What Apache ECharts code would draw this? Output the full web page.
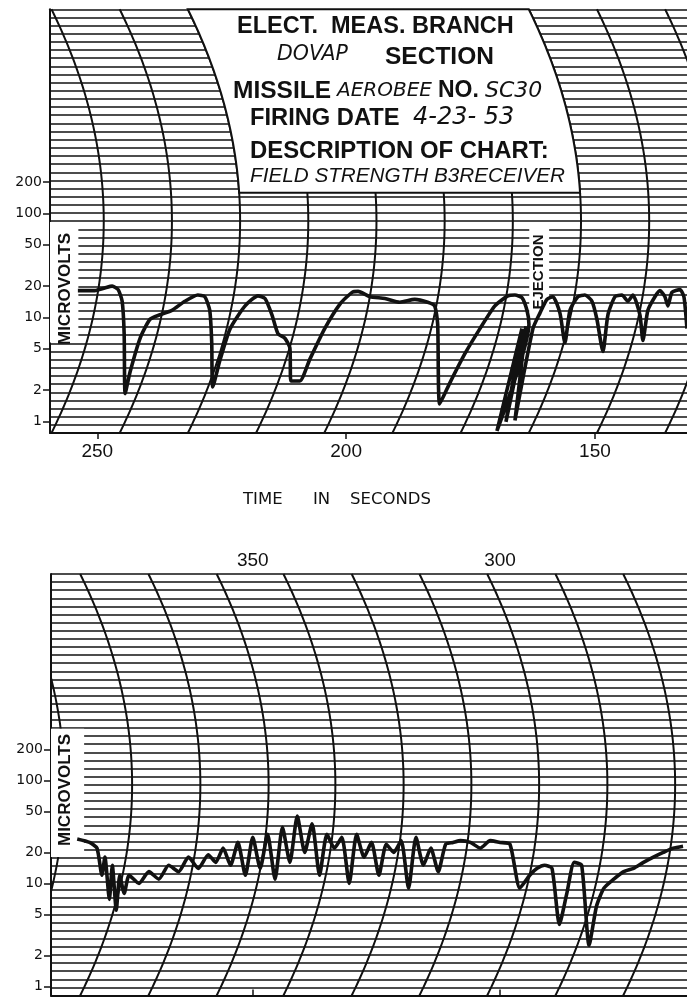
<!DOCTYPE html>
<html><head><meta charset="utf-8">
<script src="https://cdn.jsdelivr.net/npm/echarts@6/dist/echarts.min.js"></script>
<style>html,body{margin:0;padding:0;background:#fff}#c{width:687px;height:997px}</style>
</head><body><div id="c"></div>
<script>
// ---- data (time in seconds, field strength in microvolts) ----
const topTime = [253.9,250.5,248.5,247.0,245.8,245.0,244.6,244.4,243.4,241.4,239.4,237.4,235.0,232.4,229.8,228.4,227.4,227.0,226.8,225.3,223.3,220.3,217.7,216.3,214.9,213.7,212.3,211.3,211.1,209.3,207.3,204.3,201.2,198.8,197.6,195.2,192.2,189.2,186.2,183.6,182.2,181.6,181.2,179.2,176.1,173.1,170.1,167.5,166.07,164.67,163.66,163.26,169.69,164.67,167.88,163.86,166.07,162.46,161.05,159.64,158.44,157.03,156.03,155.02,153.42,152.01,150.60,149.60,148.39,147.39,145.98,144.58,143.37,142.37,140.96,140.36,139.36,137.94,136.94,135.94,135.33,134.53,132.92,132.12,131.51];
const topUV   = [18.1,18.1,19.2,20.0,18.5,14.3,7.0,1.85,3.0,6.3,9.6,10.6,11.7,14.3,16.4,15.8,11.7,5.7,2.15,3.95,7.8,12.9,16.1,15.2,10.6,7.0,6.3,5.1,2.45,2.45,3.95,7.8,13.5,17.4,17.8,15.8,15.2,14.0,14.9,14.0,12.9,8.6,1.47,2.32,4.5,7.8,12.9,16.1,16.4,15.5,11.7,8.6,0.81,7.8,0.99,8.2,1.02,7.8,11.0,14.9,15.8,11.0,5.7,11.7,15.8,16.4,14.3,9.6,4.7,10.6,15.8,16.4,14.3,16.4,10.6,6.0,11.7,15.8,18.1,15.8,12.9,17.4,18.5,15.8,7.8];
const botTime = [385.5,383.0,381.5,380.5,379.9,379.0,378.4,377.6,376.9,376.0,375.0,373.0,371.0,369.0,367.0,365.0,363.0,361.0,359.0,357.5,356.0,354.5,353.0,351.5,350.0,348.5,347.0,345.5,344.0,342.5,341.0,339.5,338.0,336.5,335.0,333.5,332.0,330.5,329.0,327.5,326.0,324.5,323.0,321.5,320.0,318.5,317.0,315.5,314.0,312.5,311.0,309.5,308.0,306.0,304.0,302.0,300.0,298.0,296.0,294.0,292.5,291.0,289.5,288.0,286.5,285.0,283.5,282.0,280.5,279.0,277.0,275.0,273.0,271.0,269.0,267.0,265.0,263.0];
const botUV   = [27,25,22,12,18,7,15,5.5,12,8,12,10,13,11,15,13,18,14,19,16,22,15,25,12,28,14,30,11,35,16,45,20,38,12,30,22,28,10,30,18,25,12,24,20,26,9,28,15,22,13,24,25,26,25,22,26,25,24,9,12,14,15,14,4,8,16,15,2.5,6,9,11,13,14,16,18,20,22,23];
const yTickValues = [1,2,5,10,20,50,100,200];
const topTimeTicks = [250,200,150];
const botTimeTicks = [350,300];
const topArcTimes = [259.2,245.5,231.8,218.1,204.4,190.7,177.0,163.3,149.6,135.9];
const botArcTimes = [398.6,384.9,371.1,357.3,343.8,330.0,316.3,302.6,288.8,275.1];

// ---- layout constants ----
const ARC_BULGE = 10.5;   // seconds, sideways bow of the recorder arcs
const DIVS = 52;
const FONT = '"Liberation Sans", Arial, sans-serif';
const DFONT = '"DejaVu Sans", sans-serif';

function zip(a,b){return a.map((v,i)=>[v,b[i]]);}
function arcT(t0,d){const u=(d-DIVS/2)/(DIVS/2); return t0 - ARC_BULGE*(1-u*u);}
function arcPoints(t0){
  const pts=[];
  for(let d=0; d<=DIVS; d+=1){ pts.push([arcT(t0,d), d]); }
  return pts;
}
const arcSeries = [];
topArcTimes.forEach(t=>arcSeries.push({type:'line',xAxisIndex:0,yAxisIndex:1,data:arcPoints(t),showSymbol:false,silent:true,smooth:true,lineStyle:{color:'#111',width:2},z:2}));
botArcTimes.forEach(t=>arcSeries.push({type:'line',xAxisIndex:1,yAxisIndex:3,data:arcPoints(t),showSymbol:false,silent:true,smooth:true,lineStyle:{color:'#111',width:2},z:2}));

// white masks (title block, label boxes)
function headerBox(params, api){
  const left = topArcTimes[2], right = topArcTimes[7], bottomDiv = 29.5;
  const pts=[];
  for(let d=DIVS; d>=bottomDiv; d-=0.5){ pts.push(api.coord([arcT(left,d), d])); }
  for(let d=bottomDiv; d<=DIVS; d+=0.5){ pts.push(api.coord([arcT(right,d), d])); }
  return {type:'polygon', shape:{points:pts}, style:{fill:'#fff', stroke:'#111', lineWidth:2}};
}
function rectBox(t0,t1,d0,d1){
  return function(params, api){
    const p0=api.coord([t0,d1]), p1=api.coord([t1,d0]);
    return {type:'rect', shape:{x:p0[0],y:p0[1],width:p1[0]-p0[0],height:p1[1]-p0[1]}, style:{fill:'#fff'}};
  };
}

const chart = echarts.init(document.getElementById('c'), null, {renderer:'canvas'});
const axisLine = {show:true, lineStyle:{color:'#111', width:2}};
const yLabel = {customValues:yTickValues, color:'#111', fontSize:14, fontFamily:DFONT, margin:8};
const option = {
  backgroundColor:'#fff',
  animation:false,
  grid:[
    {left:50, top:9.3, right:-3, height:423.7},
    {left:51, top:574, right:-3, height:421.5}
  ],
  xAxis:[
    {gridIndex:0, type:'value', inverse:true, min:131.5, max:259.5, position:'bottom',
     axisLine:axisLine, splitLine:{show:false},
     axisTick:{show:true, customValues:topTimeTicks, length:6, lineStyle:{color:'#111',width:1.5}},
     axisLabel:{customValues:topTimeTicks, color:'#111', fontSize:19, fontFamily:FONT, margin:9}},
    {gridIndex:1, type:'value', inverse:true, min:262.2, max:390.8, position:'top',
     axisLine:axisLine, splitLine:{show:false},
     axisTick:{show:true, customValues:botTimeTicks, length:6, lineStyle:{color:'#111',width:1.5}},
     axisLabel:{customValues:botTimeTicks, color:'#111', fontSize:19, fontFamily:FONT, margin:4}}
  ],
  yAxis:[
    {gridIndex:0, type:'log', min:0.7735, max:9175, axisLine:axisLine, splitLine:{show:false},
     axisTick:{show:true, customValues:yTickValues, length:7, lineStyle:{color:'#111',width:1.5}},
     axisLabel:yLabel},
    {gridIndex:0, type:'value', min:0, max:DIVS, interval:1, show:true, position:'right',
     axisLine:{show:false}, axisTick:{show:false}, axisLabel:{show:false},
     splitLine:{show:true, lineStyle:{color:'#111', width:1.6}}},
    {gridIndex:1, type:'log', min:0.816, max:10093, axisLine:axisLine, splitLine:{show:false},
     axisTick:{show:true, customValues:yTickValues, length:7, lineStyle:{color:'#111',width:1.5}},
     axisLabel:yLabel},
    {gridIndex:1, type:'value', min:0, max:DIVS, interval:1, show:true, position:'right',
     axisLine:{show:false}, axisTick:{show:false}, axisLabel:{show:false},
     splitLine:{show:true, lineStyle:{color:'#111', width:1.6}}}
  ],
  series: arcSeries.concat([
    {type:'custom', xAxisIndex:0, yAxisIndex:1, data:[0], renderItem:headerBox, silent:true, z:3},
    {type:'custom', xAxisIndex:0, yAxisIndex:1, data:[0], renderItem:rectBox(259.5,253.8,11.1,25.9), silent:true, z:3},
    {type:'custom', xAxisIndex:0, yAxisIndex:1, data:[0], renderItem:rectBox(163.2,159.2,14.1,25.9), silent:true, z:3},
    {type:'custom', xAxisIndex:1, yAxisIndex:3, data:[0], renderItem:rectBox(390.8,384.1,17.1,32.9), silent:true, z:3},
    {type:'line', name:'top', xAxisIndex:0, yAxisIndex:0, data:zip(topTime,topUV), showSymbol:false, smooth:0.2,
     lineStyle:{color:'#111', width:3.6}, z:5},
    {type:'line', name:'bottom', xAxisIndex:1, yAxisIndex:2, data:zip(botTime,botUV), showSymbol:false, smooth:0.2,
     lineStyle:{color:'#111', width:3.6}, z:5}
  ]),
  graphic:[
    {type:'text', x:237, y:27, z:10, style:{text:'ELECT.  MEAS. BRANCH', font:'bold 23.5px '+FONT, fill:'#111', verticalAlign:'middle'}},
    {type:'text', x:277, y:55, z:10, style:{text:'DOVAP', font:'oblique 20.5px '+DFONT, fill:'#111', verticalAlign:'middle'}},
    {type:'text', x:385, y:57, z:10, style:{text:'SECTION', font:'bold 24.5px '+FONT, fill:'#111', verticalAlign:'middle'}},
    {type:'text', x:233, y:91, z:10, style:{text:'MISSILE', font:'bold 24.5px '+FONT, fill:'#111', verticalAlign:'middle'}},
    {type:'text', x:337, y:91, z:10, style:{text:'AEROBEE', font:'oblique 20px '+DFONT, fill:'#111', verticalAlign:'middle'}},
    {type:'text', x:438, y:91, z:10, style:{text:'NO.', font:'bold 23px '+FONT, fill:'#111', verticalAlign:'middle'}},
    {type:'text', x:485, y:91, z:10, style:{text:'SC30', font:'oblique 22px '+DFONT, fill:'#111', verticalAlign:'middle'}},
    {type:'text', x:250, y:118, z:10, style:{text:'FIRING DATE', font:'bold 23.7px '+FONT, fill:'#111', verticalAlign:'middle'}},
    {type:'text', x:413, y:118, z:10, style:{text:'4-23- 53', font:'oblique 24px '+DFONT, fill:'#111', verticalAlign:'middle'}},
    {type:'text', x:250, y:151, z:10, style:{text:'DESCRIPTION OF CHART:', font:'bold 23.9px '+FONT, fill:'#111', verticalAlign:'middle'}},
    {type:'text', x:250, y:176, z:10, style:{text:'FIELD STRENGTH B3RECEIVER', font:'italic 20.7px '+FONT, fill:'#111', verticalAlign:'middle'}},
    {type:'text', x:65, y:289, rotation:Math.PI/2, z:10, style:{text:'MICROVOLTS', font:'bold 17px '+FONT, fill:'#111', align:'center', verticalAlign:'middle'}},
    {type:'text', x:65, y:790, rotation:Math.PI/2, z:10, style:{text:'MICROVOLTS', font:'bold 17px '+FONT, fill:'#111', align:'center', verticalAlign:'middle'}},
    {type:'text', x:539, y:272, rotation:Math.PI/2, z:10, style:{text:'EJECTION', font:'bold 15px '+FONT, fill:'#111', align:'center', verticalAlign:'middle'}},
    {type:'text', x:243, y:500, z:10, style:{text:'TIME', font:'16.5px '+DFONT, fill:'#111', verticalAlign:'middle'}},
    {type:'text', x:313, y:500, z:10, style:{text:'IN', font:'16.5px '+DFONT, fill:'#111', verticalAlign:'middle'}},
    {type:'text', x:350, y:500, z:10, style:{text:'SECONDS', font:'16.5px '+DFONT, fill:'#111', verticalAlign:'middle'}}
  ]
};
chart.setOption(option);
</script></body></html>
